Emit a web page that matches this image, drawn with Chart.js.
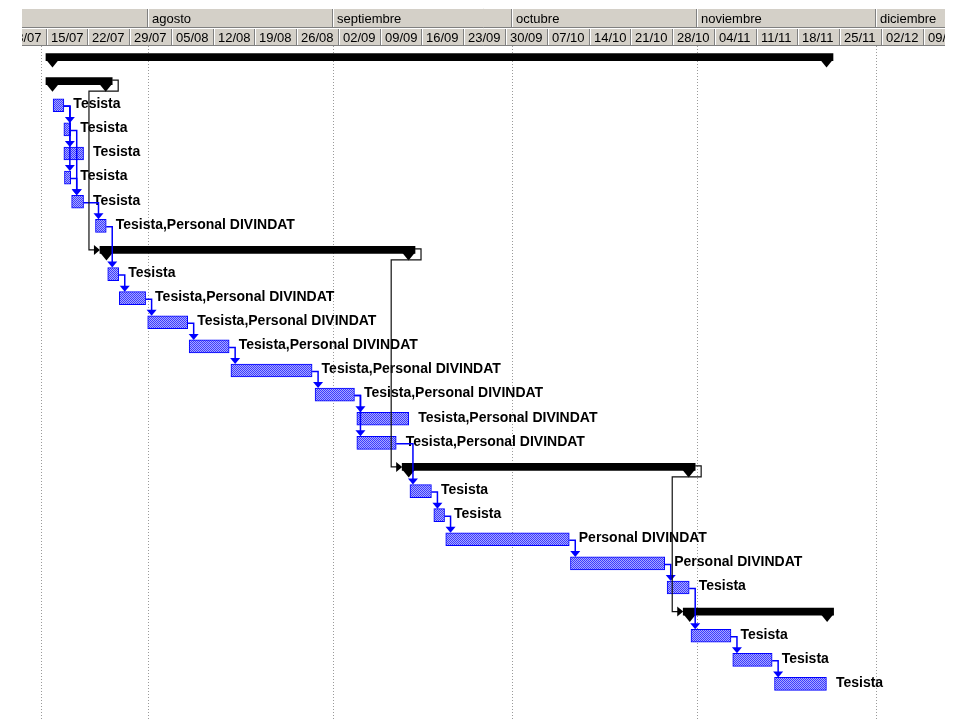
<html>
<head>
  <title>Diagrama de Gantt</title>
  <script src="https://cdn.jsdelivr.net/npm/chart.js"></script>
  <style>
    body { margin: 0; background: #fff; }
    #gantt { display: block; }
  </style>
</head>
<body>
  <canvas id="gantt" width="960" height="720"></canvas>

  <script>
// days counted from 01/07 (day 0)
const rowIds = ['1','2','3','4','5','6','7','8','9','10','11','12','13','14','15','16','17','18','19','20','21','22','23','24','25','26','27'];

// summary bars (black)
const sumStart = [13.9, 13.9, null, null, null, null, null, null, 22.95, null, null, null, null, null, null, null, null, 73.6, null, null, null, null, null, 120.7, null, null, null];
const sumEnd   = [145.8, 25.0, null, null, null, null, null, null, 75.75, null, null, null, null, null, null, null, null, 122.7, null, null, null, null, null, 145.9, null, null, null];

// tasks (blue)
const taskStart = [null, null, 15.1, 16.9, 16.9, 17.0, 18.2, 22.2, null, 24.25, 26.2, 30.95, 37.9, 44.9, 59.0, 66.0, 66.0, null, 74.9, 78.9, 80.9, 101.8, 118.0, null, 122.0, 129.0, 136.0];
const taskEnd   = [null, null, 16.9, 18.05, 20.2, 18.05, 20.2, 24.0, null, 26.1, 30.6, 37.65, 44.6, 58.5, 65.6, 74.7, 72.6, null, 78.5, 80.7, 101.6, 117.6, 121.7, null, 128.7, 135.6, 144.7];

const resources = [null, null, 'Tesista', 'Tesista', 'Tesista', 'Tesista', 'Tesista', 'Tesista,Personal DIVINDAT', null,
  'Tesista', 'Tesista,Personal DIVINDAT', 'Tesista,Personal DIVINDAT', 'Tesista,Personal DIVINDAT', 'Tesista,Personal DIVINDAT',
  'Tesista,Personal DIVINDAT', 'Tesista,Personal DIVINDAT', 'Tesista,Personal DIVINDAT', null,
  'Tesista', 'Tesista', 'Personal DIVINDAT', 'Personal DIVINDAT', 'Tesista', null, 'Tesista', 'Tesista', 'Tesista'];

// dependencies (row index pairs)
const taskLinks = [[2,3],[2,4],[2,5],[3,6],[5,6],[6,7],[7,9],[9,10],[10,11],[11,12],[12,13],[13,14],[14,15],[14,16],
  [16,18],[18,19],[19,20],[20,21],[21,22],[22,24],[24,25],[25,26]];
const summaryLinks = [[1,8],[8,17],[17,23]];

// timescale
const monthLabels = ['julio', 'agosto', 'septiembre', 'octubre', 'noviembre', 'diciembre'];
const monthStarts = [0, 31, 62, 92, 123, 153];
const weekLabels = ['08/07','15/07','22/07','29/07','05/08','12/08','19/08','26/08','02/09','09/09','16/09','23/09',
  '30/09','07/10','14/10','21/10','28/10','04/11','11/11','18/11','25/11','02/12','09/12'];
const weekStarts = [7,14,21,28,35,42,49,56,63,70,77,84,91,98,105,112,119,126,133,140,147,154,161];
const startLine = 13;

const X_MIN = 9.884;
const X_MAX = 164.57;

const canvas = document.getElementById('gantt');
const ctx = canvas.getContext('2d');

// dithered blue fill like the old Project bars
const pc = document.createElement('canvas');
pc.width = 2; pc.height = 2;
const p = pc.getContext('2d');
p.fillStyle = '#a8a8ff'; p.fillRect(0, 0, 2, 2);
p.fillStyle = '#3c3cff'; p.fillRect(0, 0, 1, 1); p.fillRect(1, 1, 1, 1);
const hatch = ctx.createPattern(pc, 'repeat');

const LABEL_FONT = "bold 14px 'Liberation Sans', Arial, sans-serif";
const HEAD_FONT = "13px 'Liberation Sans', Arial, sans-serif";

const ganttPlugin = {
  id: 'gantt',
  beforeDraw(chart) {
    const c = chart.ctx, x = chart.scales.x, a = chart.chartArea;
    c.save();
    c.fillStyle = '#fff';
    c.fillRect(0, 0, chart.width, chart.height);
    // dotted lines
    c.strokeStyle = '#9a9a9a';
    c.lineWidth = 1;
    c.setLineDash([1, 2]);
    const lines = monthStarts.concat([startLine]);
    for (const d of lines) {
      const px = Math.round(x.getPixelForValue(d)) + 0.5;
      if (px < a.left || px > a.right) continue;
      c.beginPath();
      c.moveTo(px, 46);
      c.lineTo(px, chart.height);
      c.stroke();
    }
    c.restore();
  },
  afterDatasetsDraw(chart) {
    const c = chart.ctx, x = chart.scales.x, y = chart.scales.y;
    c.save();

    // summary end caps
    c.fillStyle = '#000';
    sumStart.forEach((s, i) => {
      if (s == null) return;
      const xs = x.getPixelForValue(s), xe = x.getPixelForValue(sumEnd[i]);
      const yb = y.getPixelForValue(i) + 3.5;
      [[xs, xs + 13], [xe - 13, xe]].forEach(([l, r]) => {
        c.beginPath();
        c.moveTo(l, yb - 1);
        c.lineTo(r, yb - 1);
        c.lineTo((l + r) / 2, yb + 7);
        c.closePath();
        c.fill();
      });
    });

    // resource labels
    c.font = LABEL_FONT;
    c.textBaseline = 'middle';
    c.fillStyle = '#000';
    resources.forEach((r, i) => {
      if (!r) return;
      c.fillText(r, x.getPixelForValue(taskEnd[i]) + 9.5, y.getPixelForValue(i) - 1);
    });

    // task links
    c.strokeStyle = '#0000ff';
    c.fillStyle = '#0000ff';
    c.lineWidth = 1.5;
    taskLinks.forEach(([a, b]) => {
      const xe = x.getPixelForValue(taskEnd[a]);
      const ya = y.getPixelForValue(a) + 1;
      const xs = x.getPixelForValue(taskStart[b]);
      const top = y.getPixelForValue(b) - 6.5;
      const ax = Math.max(xe + 6, xs + 3);
      c.beginPath();
      c.moveTo(xe, ya);
      c.lineTo(ax, ya);
      c.lineTo(ax, top - 4);
      c.stroke();
      c.beginPath();
      c.moveTo(ax - 5, top - 6);
      c.lineTo(ax + 5, top - 6);
      c.lineTo(ax, top);
      c.closePath();
      c.fill();
    });

    // summary links
    c.strokeStyle = '#111';
    c.fillStyle = '#000';
    c.lineWidth = 1.2;
    summaryLinks.forEach(([a, b]) => {
      const xe = x.getPixelForValue(sumEnd[a]);
      const ya = y.getPixelForValue(a) - 1;
      const xs = x.getPixelForValue(sumStart[b]);
      const yb = y.getPixelForValue(b);
      const drop = ya + 11;
      const lx = xs - 11;
      c.beginPath();
      c.moveTo(xe, ya);
      c.lineTo(xe + 6, ya);
      c.lineTo(xe + 6, drop);
      c.lineTo(lx, drop);
      c.lineTo(lx, yb);
      c.lineTo(xs - 5, yb);
      c.stroke();
      c.beginPath();
      c.moveTo(xs - 6, yb - 5);
      c.lineTo(xs - 6, yb + 5);
      c.lineTo(xs, yb);
      c.closePath();
      c.fill();
    });
    c.restore();
  },
  afterDraw(chart) {
    const c = chart.ctx, x = chart.scales.x, a = chart.chartArea;
    const top = 8, mid = 27, bot = 46;
    c.save();
    c.beginPath();
    c.rect(a.left, 0, a.right - a.left, bot + 1);
    c.clip();
    c.fillStyle = '#d4d0c8';
    c.fillRect(a.left, top, a.right - a.left, bot - top);

    // horizontal edges
    c.lineWidth = 1;
    c.strokeStyle = '#ffffff';
    c.beginPath(); c.moveTo(a.left, top + 0.5); c.lineTo(a.right, top + 0.5); c.stroke();
    c.beginPath(); c.moveTo(a.left, mid + 1.5); c.lineTo(a.right, mid + 1.5); c.stroke();
    c.strokeStyle = '#808080';
    c.beginPath(); c.moveTo(a.left, mid + 0.5); c.lineTo(a.right, mid + 0.5); c.stroke();
    c.beginPath(); c.moveTo(a.left, bot - 0.5); c.lineTo(a.right, bot - 0.5); c.stroke();

    c.font = HEAD_FONT;
    c.textBaseline = 'middle';

    const cells = (starts, labels, y0, y1) => {
      starts.forEach((d, i) => {
        const px = Math.round(x.getPixelForValue(d));
        c.strokeStyle = '#808080';
        c.beginPath(); c.moveTo(px - 0.5, y0); c.lineTo(px - 0.5, y1); c.stroke();
        c.strokeStyle = '#ffffff';
        c.beginPath(); c.moveTo(px + 0.5, y0); c.lineTo(px + 0.5, y1); c.stroke();
        c.fillStyle = '#000';
        c.fillText(labels[i], px + 4, (y0 + y1) / 2 + 1);
      });
    };
    // the first month label sits before the visible start, keep it clipped away
    cells(monthStarts, monthLabels, top + 1, mid);
    cells(weekStarts, weekLabels, mid + 2, bot - 1);
    c.restore();
  }
};

new Chart(ctx, {
  type: 'bar',
  data: {
    labels: rowIds,
    datasets: [
      {
        label: 'Tareas',
        data: taskStart.map((s, i) => s == null ? null : [s, taskEnd[i]]),
        backgroundColor: hatch,
        borderColor: '#0000ff',
        borderWidth: 1,
        borderSkipped: false,
        barThickness: 13,
        grouped: false
      },
      {
        label: 'Resumen',
        data: sumStart.map((s, i) => s == null ? null : [s, sumEnd[i]]),
        backgroundColor: '#000',
        borderWidth: 0,
        barThickness: 7,
        grouped: false
      }
    ]
  },
  options: {
    indexAxis: 'y',
    responsive: false,
    animation: false,
    layout: { padding: { left: 22, right: 15, top: 45, bottom: 24 } },
    plugins: { legend: { display: false }, tooltip: { enabled: false } },
    scales: {
      x: { type: 'linear', min: X_MIN, max: X_MAX, display: false },
      y: { type: 'category', display: false, offset: true }
    }
  },
  plugins: [ganttPlugin]
});
  </script>
</body>
</html>
